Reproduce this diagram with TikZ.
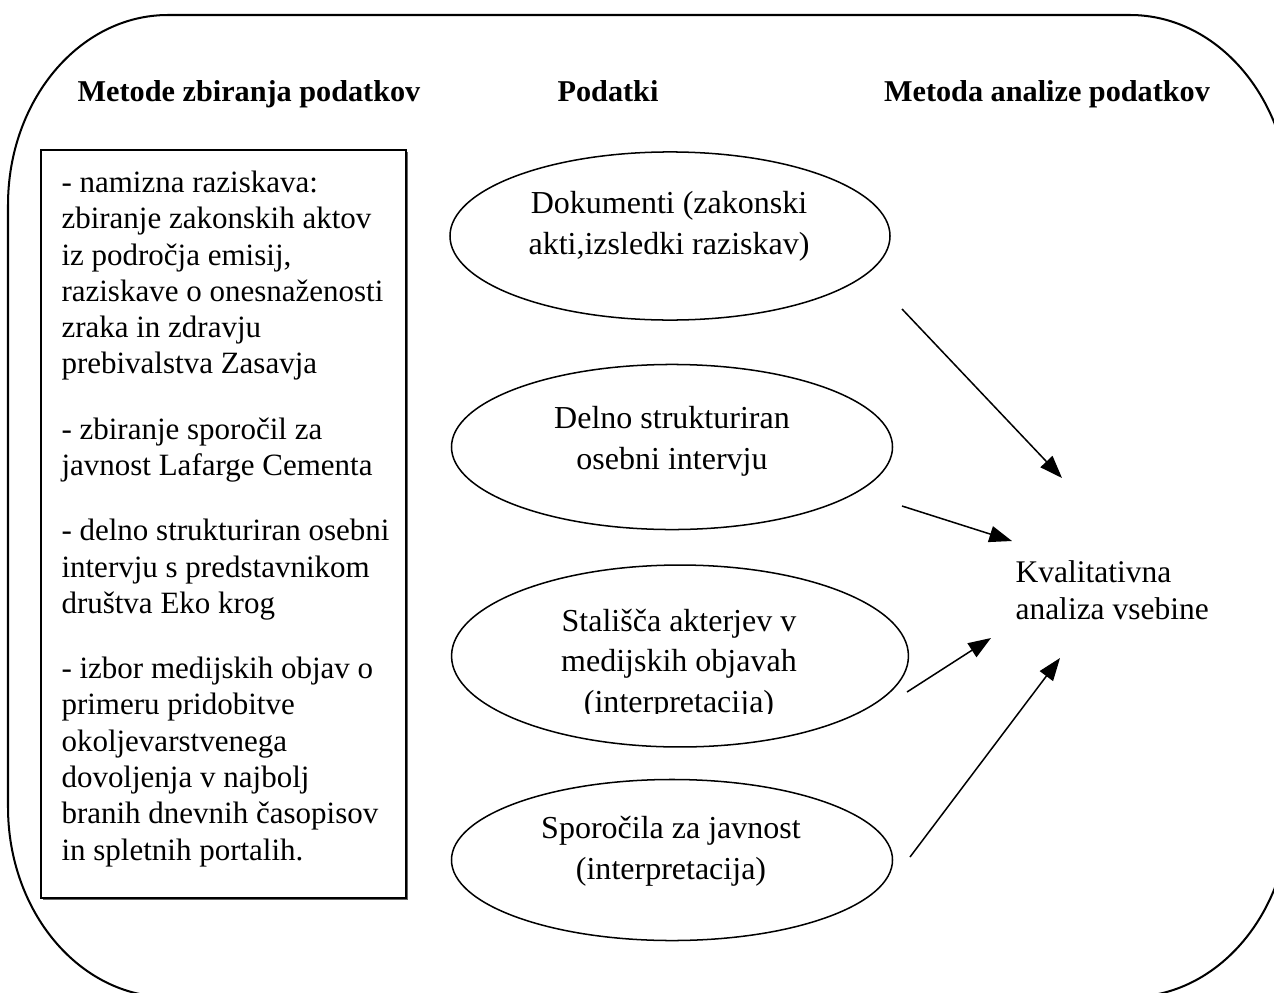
\documentclass[tikz,border=0pt]{standalone}
\usepackage{fontspec}
\setmainfont{Liberation Serif}
\usetikzlibrary{arrows.meta,shapes.geometric,shadows}

\tikzset{
  oval/.style={draw, ellipse, line width=0.6pt, inner sep=0pt},
  ovaltext/.style={anchor=base, align=center, inner sep=0pt, font=\fontsize{12.7}{15.9}\selectfont},
  head/.style={anchor=base, inner sep=0pt, font=\fontsize{12}{14}\selectfont\bfseries},
  arr/.style={-{Triangle[length=9pt,width=6.5pt]}, line width=0.6pt}
}

\begin{document}
\begin{tikzpicture}[x=0.3968pt,y=-0.3968pt]
  \clip (0,0) rectangle (1274,992);

  % Outer frame with big round corners
  \draw[line width=0.8pt] (168,15) -- (1130,15)
    arc[start angle=-90,end angle=0,x radius=160,y radius=190] -- (1290,807)
    arc[start angle=0,end angle=90,x radius=160,y radius=190] -- (168,997)
    arc[start angle=90,end angle=180,x radius=160,y radius=190] -- (8,205)
    arc[start angle=180,end angle=270,x radius=160,y radius=190] -- cycle;

  % Column headings
  \node[head] (hmet) at (249,101) {Metode zbiranja podatkov};
  \node[head] (hpod) at (608,101) {Podatki};
  \node[head] (hana) at (1047,101) {Metoda analize podatkov};

  % Left box with the methods
  \node[draw, line width=0.8pt, fill=white, minimum width=144.8pt, minimum height=296.8pt,
    drop shadow={shadow xshift=0.7pt, shadow yshift=-0.7pt, fill=black!60, opacity=1}] (metbox) at (223.5,524) {};
  % (base = last line)
  \node[anchor=base west, align=left, inner sep=0pt, font=\fontsize{12.3}{14.4}\selectfont] (mettext) at (61,860)
    {- namizna raziskava:\\ zbiranje zakonskih aktov\\ iz področja emisij,\\ raziskave o onesnaženosti\\ zraka in zdravju\\ prebivalstva Zasavja\\[11.5pt]
     - zbiranje sporočil za\\ javnost Lafarge Cementa\\[11.5pt]
     - delno strukturiran osebni\\ intervju s predstavnikom\\ društva Eko krog\\[11.5pt]
     - izbor medijskih objav o\\ primeru pridobitve\\ okoljevarstvenega\\ dovoljenja v najbolj\\ branih dnevnih časopisov\\ in spletnih portalih.};

  % Data ellipses
  \node[oval, minimum width=174.6pt, minimum height=66.7pt] (doc) at (670,236) {};
  \node[ovaltext] (doctext) at (669,254) {Dokumenti (zakonski\\akti,izsledki raziskav)};

  \node[oval, minimum width=175pt, minimum height=65.5pt] (intv) at (672,447) {};
  \node[ovaltext] (intvtext) at (672,469) {Delno strukturiran\\osebni intervju};

  \node[oval, minimum width=181.3pt, minimum height=72.2pt] (stal) at (680,656) {};
  \begin{scope}
    \clip (450,560) rectangle (910,713);
    \node[ovaltext] (staltext) at (679,712) {Stališča akterjev v\\medijskih objavah\\(interpretacija)};
  \end{scope}

  \node[oval, minimum width=175pt, minimum height=63.9pt] (spor) at (672,860) {};
  \node[ovaltext] (sportext) at (671,879) {Sporočila za javnost\\(interpretacija)};

  % Analysis method
  \node[anchor=base west, align=left, inner sep=0pt, font=\fontsize{12.5}{14.3}\selectfont] (kva) at (1015,619)
    {Kvalitativna\\analiza vsebine};

  % Arrows
  \coordinate (a1) at (902,309);  \coordinate (b1) at (1062,478);
  \coordinate (a2) at (902,506);  \coordinate (b2) at (1012,541);
  \coordinate (a3) at (907,692);  \coordinate (b3) at (991,638);
  \coordinate (a4) at (910,857);  \coordinate (b4) at (1060,658);
  \draw[arr] (a1) -- (b1);
  \draw[arr] (a2) -- (b2);
  \draw[arr] (a3) -- (b3);
  \draw[arr] (a4) -- (b4);
\end{tikzpicture}
\end{document}
